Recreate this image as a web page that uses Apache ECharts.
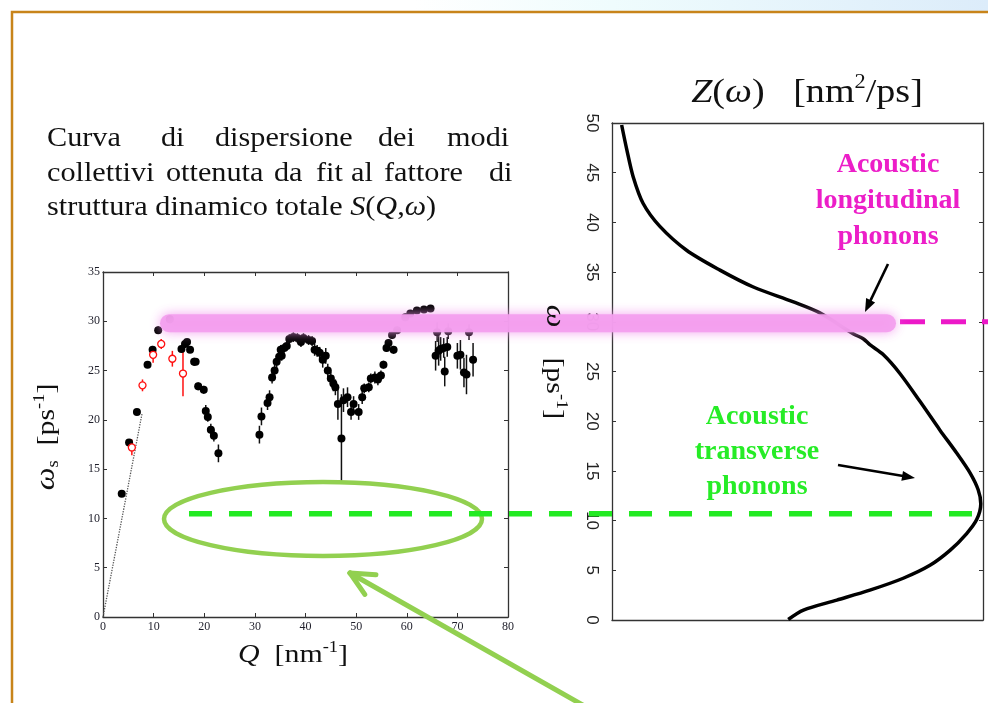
<!DOCTYPE html>
<html><head><meta charset="utf-8">
<script src="https://cdn.jsdelivr.net/npm/echarts@6/dist/echarts.min.js"></script>
<style>html,body{margin:0;padding:0;background:#fff;}#c{width:988px;height:703px;}</style>
</head><body><div id="c"></div>
<script>
// ---------- data ----------
const blackQ = [3.7,5.15,6.7,8.8,9.8,10.9,13.2,15.5,16.2,16.6,17.2,18.0,18.3,18.8,19.9,20.3,20.7,21.3,21.9,22.8,
  30.9,31.3,32.5,32.9,33.4,33.9,34.3,34.8,35.3,35.1,35.8,36.3,36.8,37.6,38.4,39.1,39.6,40.6,41.3,41.8,42.3,42.8,43.4,44.0,44.4,45.0,45.5,45.9,46.4,47.1,47.5,48.3,49.0,49.5,50.5,51.2,51.6,52.5,52.9,53.7,54.3,54.9,55.4,56.0,56.4,57.4,57.1,58.1,59.7,60.7,62.0,63.4,64.7,
  65.7,66.0,66.3,66.7,67.3,67.5,68.0,68.2,70.0,70.6,71.3,71.8,72.3,73.1];
const blackOmega = [12.5,17.7,20.8,25.6,27.1,29.1,30.2,27.2,27.7,27.9,27.1,25.9,25.9,23.4,23.05,20.9,20.3,19.0,18.4,16.6,
  18.5,20.35,21.7,22.3,24.3,25.0,25.9,26.4,26.5,27.1,27.3,27.5,28.2,28.4,28.3,27.9,28.3,28.1,28.0,27.1,27.0,26.8,26.1,26.5,25.0,24.2,23.7,23.3,21.6,18.1,22.0,22.3,20.8,21.6,20.8,22.3,23.2,23.3,24.2,24.3,24.1,24.5,25.6,27.3,27.8,27.1,28.6,29.1,30.4,30.8,31.1,31.2,31.3,
  26.5,28.9,27.0,27.2,27.3,24.9,27.4,29.0,26.5,26.6,24.8,24.6,28.9,26.1];
const blackErr = [0.3,0.3,0.3,0.3,0.4,0.4,0.4,0.4,0.4,0.3,0.3,0.4,0.3,0.4,0.4,0.6,0.5,0.6,0.6,0.9,
  0.9,0.9,0.7,0.7,0.6,0.6,0.6,0.6,0.5,0.5,0.5,0.5,0.5,0.5,0.5,0.5,0.5,0.5,0.5,0.6,0.6,0.6,0.8,0.8,0.7,0.7,0.8,0.8,1.6,4.5,1.2,1.0,0.8,0.8,0.8,0.7,0.5,0.5,0.5,0.6,0.6,0.5,0.4,0.4,0.4,0.4,0.4,0.4,0.4,0.3,0.3,0.3,0.3,
  1.5,1.0,1.5,1.2,1.0,1.5,1.0,0.8,1.3,1.5,1.5,2.0,0.8,1.7];
const redQ = [5.7,7.8,9.9,11.5,13.7,15.8];
const redOmega = [17.2,23.5,26.6,27.7,26.2,24.7];
const redErr = [0.8,0.6,0.8,0.5,0.8,2.3];
const slopeQ = [0,7.7];
const slopeOmega = [0,20.6];
const zOmega = [0.05,1.0,2.0,3.0,4.2,5.5,7.0,8.7,10.1,11.7,13.1,14.8,16.8,19.1,22.0,24.8,26.7,27.7,28.3,28.8,30.9,32.0,33.5,35.2,37.2,39.6,41.9,44.6,47.3,49.8];
const zValue = [0.475,0.516,0.606,0.695,0.785,0.857,0.911,0.956,0.983,0.994,0.987,0.965,0.929,0.884,0.83,0.776,0.731,0.695,0.677,0.65,0.56,0.489,0.381,0.291,0.201,0.129,0.084,0.057,0.04,0.026];
const transverseLevel = 10.7;
const longitudinalLevel = 30;

// ---------- chart ----------
const serif = '"Liberation Serif","Times New Roman",serif';
const sans = '"Liberation Sans",Arial,sans-serif';
const chart = echarts.init(document.getElementById('c'), null, {renderer:'canvas'});

function errRender(color){
  return function(params, api){
    const x = api.value(0), y = api.value(1), e = api.value(2);
    const p1 = api.coord([x, y - e]), p2 = api.coord([x, y + e]);
    return {type:'line', shape:{x1:p1[0], y1:p1[1], x2:p2[0], y2:p2[1]}, style:{stroke:color, lineWidth:1.5}};
  };
}
function frameAxis(extra){
  return Object.assign({type:'value', axisLine:{show:true, onZero:false, lineStyle:{color:'#333', width:1.3}},
    axisTick:{show:true, inside:true, length:4, lineStyle:{color:'#333', width:1}},
    axisLabel:{show:false}, splitLine:{show:false}}, extra);
}

const blackData = blackQ.map((q,i)=>[q, blackOmega[i], blackErr[i]]);
const redData = redQ.map((q,i)=>[q, redOmega[i], redErr[i]]);
const slopeData = slopeQ.map((q,i)=>[q, slopeOmega[i]]);
const zData = zOmega.map((w,i)=>[zValue[i], w]);

chart.setOption({
  animation:false,
  backgroundColor:'#fff',
  grid:[{left:103, top:272, width:405, height:345},{left:612, top:123, width:371, height:497}],
  xAxis:[
    frameAxis({gridIndex:0, min:0, max:80, interval:10, position:'bottom',
      axisLabel:{show:true, fontFamily:serif, fontSize:12, color:'#1e1e2a', margin:4}}),
    frameAxis({gridIndex:0, min:0, max:80, interval:10, position:'top'}),
    frameAxis({gridIndex:1, min:0, max:1, interval:1, position:'bottom'}),
    frameAxis({gridIndex:1, min:0, max:1, interval:1, position:'top', axisTick:{show:false}})
  ],
  yAxis:[
    frameAxis({gridIndex:0, min:0, max:35, interval:5, position:'left',
      axisLabel:{show:true, fontFamily:serif, fontSize:12, color:'#1e1e2a', margin:3}}),
    frameAxis({gridIndex:0, min:0, max:35, interval:5, position:'right'}),
    frameAxis({gridIndex:1, min:0, max:50, interval:5, position:'left',
      axisLabel:{show:true, rotate:-90, fontFamily:sans, fontSize:17, color:'#222', margin:12}}),
    frameAxis({gridIndex:1, min:0, max:50, interval:5, position:'right'})
  ],
  series:[
    {type:'line', xAxisIndex:0, yAxisIndex:0, data:slopeData, symbol:'none', lineStyle:{type:'dotted', color:'#555', width:1.3}, z:2},
    {type:'custom', xAxisIndex:0, yAxisIndex:0, data:blackData, renderItem:errRender('#111'), encode:{x:0, y:1}, z:3},
    {type:'custom', xAxisIndex:0, yAxisIndex:0, data:redData, renderItem:errRender('#ff1010'), encode:{x:0, y:1}, z:3},
    {type:'scatter', xAxisIndex:0, yAxisIndex:0, data:blackData, symbolSize:8, itemStyle:{color:'#000', opacity:1}, z:4},
    {type:'scatter', xAxisIndex:0, yAxisIndex:0, data:redData, symbol:'circle', symbolSize:7, itemStyle:{color:'#fff', borderColor:'#ff1010', borderWidth:1.3, opacity:1}, z:5},
    {type:'line', xAxisIndex:2, yAxisIndex:2, data:zData, smooth:0.3, symbol:'none', lineStyle:{color:'#000', width:3.5}, z:3}
  ]
});

// ---------- annotations ----------
const yT = chart.convertToPixel({gridIndex:1}, [0, transverseLevel])[1];
const yL = chart.convertToPixel({gridIndex:1}, [0, longitudinalLevel])[1];
const yBand = chart.convertToPixel({gridIndex:0}, [0, 29.8])[1];

function arrow(x1,y1,x2,y2,color,w,hl,hw){
  const dx=x2-x1, dy=y2-y1, L=Math.hypot(dx,dy), ux=dx/L, uy=dy/L;
  const bx=x2-ux*hl, by=y2-uy*hl;
  return [
    {type:'line', z:100, shape:{x1:x1, y1:y1, x2:bx+ux, y2:by+uy}, style:{stroke:color, lineWidth:w}},
    {type:'polygon', z:100, shape:{points:[[x2,y2],[bx-uy*hw/2, by+ux*hw/2],[bx+uy*hw/2, by-ux*hw/2]]}, style:{fill:color}}
  ];
}
function openArrow(x1,y1,x2,y2,color,w,hl,ang){
  const a = Math.atan2(y1-y2, x1-x2);
  const els = [{type:'line', z:100, shape:{x1:x1,y1:y1,x2:x2,y2:y2}, style:{stroke:color, lineWidth:w, lineCap:'round'}}];
  [ang,-ang].forEach(d=>{
    els.push({type:'line', z:100, shape:{x1:x2, y1:y2, x2:x2+hl*Math.cos(a+d), y2:y2+hl*Math.sin(a+d)}, style:{stroke:color, lineWidth:w, lineCap:'round'}});
  });
  return els;
}
function word(t, x, y, size, sx){
  return {type:'text', z:100, x:x, y:y, scaleX:sx, style:{text:t, font:size+'px '+serif, fill:'#111', align:'left', verticalAlign:'middle'}};
}
const pS = 27, pX = 1.12;
const graphics = [
  {type:'rect', z:0, shape:{x:0, y:0, width:988, height:11}, style:{fill:new echarts.graphic.LinearGradient(0,0,1,0,[{offset:0,color:'#ffffff'},{offset:0.42,color:'#ffffff'},{offset:0.62,color:'#effcfd'},{offset:1,color:'#dcecfa'}])}},
  {type:'polyline', z:100, shape:{points:[[12,703],[12,12],[988,12]]}, style:{stroke:'#c8841a', lineWidth:2.5, fill:null}},
  // paragraph
  word('Curva',47,139,pS,pX), word('di',161,139,pS,pX), word('dispersione',215,139,pS,pX), word('dei',378,139,pS,pX), word('modi',447,139,pS,pX),
  word('collettivi',47,174,pS,pX), word('ottenuta',166,174,pS,pX), word('da',274,174,pS,pX), word('fit',316,174,pS,pX), word('al',351,174,pS,pX), word('fattore',384,174,pS,pX), word('di',489,174,pS,pX),
  {type:'text', z:100, x:47, y:208, scaleX:pX, style:{text:'{r|struttura dinamico totale }{i|S}{r|(}{i|Q}{r|,}{i|ω}{r|)}', verticalAlign:'middle', align:'left',
    rich:{r:{font:pS+'px '+serif, fill:'#111'}, i:{font:'italic '+pS+'px '+serif, fill:'#111'}}}},
  // axis titles
  {type:'text', z:100, x:293, y:655, scaleX:1.15, style:{text:'{i|Q}{r|  [nm}{s|-1}{r|]}', align:'center', verticalAlign:'middle',
    rich:{r:{font:'26px '+serif, fill:'#111', lineHeight:30}, i:{font:'italic 26px '+serif, fill:'#111', lineHeight:30}, s:{font:'16px '+serif, fill:'#111', verticalAlign:'top', lineHeight:18}}}},
  {type:'text', z:100, x:47, y:437, rotation:Math.PI/2, scaleX:1.15, style:{text:'{i|ω}{b|s}{r|  [ps}{s|-1}{r|]}', align:'center', verticalAlign:'middle',
    rich:{r:{font:'26px '+serif, fill:'#111', lineHeight:30}, i:{font:'italic 28px '+serif, fill:'#111', lineHeight:30}, b:{font:'16px '+serif, fill:'#111', verticalAlign:'bottom', lineHeight:16}, s:{font:'16px '+serif, fill:'#111', verticalAlign:'top', lineHeight:18}}}},
  {type:'text', z:100, x:554, y:362, rotation:-Math.PI/2, scaleX:1.15, style:{text:'{i|ω}{r|    [ps}{s|-1}{r|]}', align:'center', verticalAlign:'middle',
    rich:{r:{font:'26px '+serif, fill:'#111', lineHeight:30}, i:{font:'italic 28px '+serif, fill:'#111', lineHeight:30}, s:{font:'16px '+serif, fill:'#111', verticalAlign:'top', lineHeight:18}}}},
  {type:'text', z:100, x:807, y:93, scaleX:1.12, style:{text:'{i|Z}{r|(}{i|ω}{r|)   [nm}{s|2}{r|/ps]}', align:'center', verticalAlign:'middle',
    rich:{r:{font:'34px '+serif, fill:'#111', lineHeight:40}, i:{font:'italic 34px '+serif, fill:'#111', lineHeight:40}, s:{font:'20px '+serif, fill:'#111', verticalAlign:'top', lineHeight:26}}}},
  // ellipse + green dashed line
  {type:'ellipse', z:90, shape:{cx:323, cy:519, rx:159, ry:37}, style:{fill:null, stroke:'#92d050', lineWidth:4.5}},
  {type:'line', z:95, shape:{x1:189, y1:yT, x2:988, y2:yT}, style:{stroke:'#22ea22', lineWidth:5.5, lineDash:[23,17]}},
  // pink band + magenta dashed line
  {type:'rect', z:96, shape:{x:160, y:yBand-9, width:736, height:18, r:9}, style:{fill:'rgba(243,158,238,0.93)', shadowBlur:12, shadowColor:'rgba(243,150,238,0.95)'}},
  {type:'line', z:95, shape:{x1:900, y1:yL, x2:988, y2:yL}, style:{stroke:'#ec18c8', lineWidth:5, lineDash:[25,16]}},
  // annotation texts
  {type:'text', z:100, x:888, y:201, style:{text:'Acoustic\nlongitudinal\nphonons', font:'bold 28px '+serif, fill:'#ec1ec8', align:'center', verticalAlign:'middle', lineHeight:36}},
  {type:'text', z:100, x:757, y:452, style:{text:'Acoustic\ntransverse\nphonons', font:'bold 28px '+serif, fill:'#26ec26', align:'center', verticalAlign:'middle', lineHeight:35}}
].concat(arrow(888,264,865,312,'#000',2.6,13,10))
 .concat(arrow(838,465,915,478,'#000',2.6,13,10))
 .concat(openArrow(595,712,350,573,'#92d050',5,26,0.45));

chart.setOption({graphic:{elements:graphics}});
</script>
</body></html>
